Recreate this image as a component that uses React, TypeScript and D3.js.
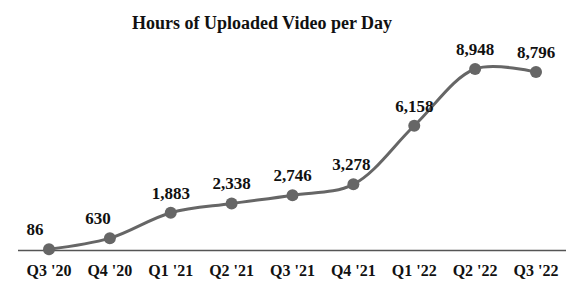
import React from "react";
import * as d3 from "d3";

const categories = ["Q3 '20", "Q4 '20", "Q1 '21", "Q2 '21", "Q3 '21", "Q4 '21", "Q1 '22", "Q2 '22", "Q3 '22"];
const values = [86, 630, 1883, 2338, 2746, 3278, 6158, 8948, 8796];
const title = "Hours of Uploaded Video per Day";

const W = 577, H = 288;
const labelDx = [-14, -12, 0, 0, 0, -2, 0, 0, 0];

export default function App() {
  const x = d3.scalePoint<string>().domain(categories).range([49, 536]);
  const y = d3.scaleLinear().domain([0, 8948]).range([251, 69]);
  const pts = categories.map((c, i) => [x(c)!, y(values[i])] as [number, number]);
  const line = d3.line().curve(d3.curveCatmullRom.alpha(0.5))(pts)!;
  const fmt = d3.format(",");
  const font = "'Liberation Serif', 'Times New Roman', serif";
  return (
    <svg width={W} height={H} style={{ position: "absolute", left: 0, top: 0, background: "#fff" }}>
      <text x={262} y={29} textAnchor="middle" fontFamily={font} fontWeight="bold" fontSize={18} fill="#111">{title}</text>
      <line x1={18} x2={566} y1={250.5} y2={250.5} stroke="#555" strokeWidth={1.5} />
      <path d={line} fill="none" stroke="#666" strokeWidth={3} />
      {pts.map((p, i) => (
        <circle key={i} cx={p[0]} cy={p[1]} r={6} fill="#666" />
      ))}
      {pts.map((p, i) => (
        <text key={"l" + i} x={p[0] + labelDx[i]} y={p[1] - 14} textAnchor="middle" fontFamily={font} fontWeight="bold" fontSize={17} fill="#111">{fmt(values[i])}</text>
      ))}
      {categories.map((c) => (
        <text key={c} x={x(c)!} y={276} textAnchor="middle" fontFamily={font} fontWeight="bold" fontSize={16} fill="#111">{c}</text>
      ))}
    </svg>
  );
}
